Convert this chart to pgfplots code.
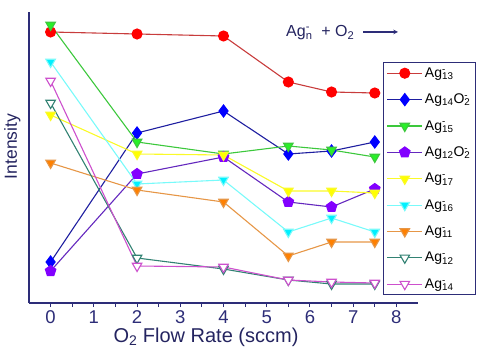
\documentclass[border=0pt]{standalone}
\usepackage{pgfplots}
\pgfplotsset{compat=1.18}
\usepackage{fontspec}
\setmainfont{Liberation Sans}
\definecolor{navy}{RGB}{45,45,120}
\definecolor{lred}{RGB}{200,60,60}
\definecolor{mred}{RGB}{255,0,0}
\definecolor{lblue}{RGB}{30,30,160}
\definecolor{mblue}{RGB}{0,0,255}
\definecolor{lgreen}{RGB}{60,200,60}
\definecolor{mgreen}{RGB}{40,240,40}
\definecolor{lpurple}{RGB}{100,40,190}
\definecolor{mpurple}{RGB}{130,0,255}
\definecolor{lyellow}{RGB}{250,250,40}
\definecolor{myellow}{RGB}{255,255,0}
\definecolor{lcyan}{RGB}{120,250,250}
\definecolor{mcyan}{RGB}{0,240,255}
\definecolor{lorange}{RGB}{230,150,70}
\definecolor{morange}{RGB}{255,128,0}
\definecolor{lteal}{RGB}{50,130,115}
\definecolor{lmag}{RGB}{205,80,205}
\newcommand{\ag}[1]{Ag\rlap{\textsuperscript{-}}\textsubscript{#1}}
\newcommand{\ago}[2]{Ag\textsubscript{#1}O\rlap{\textsuperscript{-}}\textsubscript{#2}}
\begin{document}
\begin{tikzpicture}
\begin{axis}[
  scale only axis, width=389pt, height=291pt,
  xmin=-0.5, xmax=8.5, ymin=0, ymax=291,
  axis x line*=bottom, axis y line*=left,
  axis line style={navy, line width=1.3pt},
  ytick=\empty,
  xtick={0,1,...,8}, minor x tick num=1,
  tick align=outside, major tick length=4pt, minor tick length=3.5pt,
  every tick/.style={navy, line width=1.1pt},
  ticklabel style={font=\fontsize{18.5}{18.5}\selectfont, text=navy},
  /pgf/number format/assume math mode=true,
  xlabel={O\textsubscript{2} Flow Rate (sccm)},
  ylabel={Intensity},
  label style={text=navy!80!black},
  xlabel style={font=\fontsize{20}{20}\selectfont, at={(axis description cs:0.455,0)}, anchor=center, yshift=-34pt},
  ylabel style={font=\fontsize{17.5}{17.5}\selectfont, at={(axis description cs:-0.043,0.538)}, anchor=center, rotate=0},
  legend style={at={(axis description cs:0.91,0.828)}, anchor=north west,
    draw=navy, line width=1.2pt, font=\fontsize{14}{16}\selectfont,
    row sep=11.2pt, inner sep=3pt, cells={anchor=west}},
  legend image code/.code={\draw[mark repeat=2,mark phase=2] plot coordinates {(0cm,0cm) (0.62cm,0cm) (1.24cm,0cm)};},
  legend cell align=left,
  every axis plot/.append style={line width=1.1pt},
  clip=false,
]
\addplot[lred, mark=*, mark size=5pt, mark options={fill=mred, draw=mred}] coordinates {(0,271) (2,269) (4,267) (5.5,221) (6.5,211) (7.5,210)};
\addlegendentry{\ag{13}}
\addplot[lblue, mark=diamond*, mark size=6pt, mark options={fill=mblue, draw=mblue}] coordinates {(0,41) (2,170) (4,192) (5.5,149) (6.5,152) (7.5,161)};
\addlegendentry{\ago{14}{2}}
\addplot[lgreen, mark=triangle*, mark size=5.5pt, mark options={rotate=180, fill=mgreen, draw=lgreen}] coordinates {(0,278) (2,161) (4,149) (5.5,157) (6.5,153) (7.5,146)};
\addlegendentry{\ag{15}}
\addplot[lpurple, mark=pentagon*, mark size=5.5pt, mark options={fill=mpurple, draw=mpurple}] coordinates {(0,32) (2,129) (4,146) (5.5,101) (6.5,96) (7.5,114)};
\addlegendentry{\ago{12}{2}}
\addplot[lyellow, mark=triangle*, mark size=5.5pt, mark options={rotate=180, fill=myellow, draw=lyellow}] coordinates {(0,188) (2,149) (4,148) (5.5,112) (6.5,112) (7.5,110)};
\addlegendentry{\ag{17}}
\addplot[lcyan, mark=triangle*, mark size=5.5pt, mark options={rotate=180, fill=mcyan, draw=lcyan}] coordinates {(0,241) (2,119) (4,123) (5.5,71) (6.5,85) (7.5,71)};
\addlegendentry{\ag{16}}
\addplot[lorange, mark=triangle*, mark size=5.5pt, mark options={rotate=180, fill=morange, draw=lorange}] coordinates {(0,140) (2,113) (4,101) (5.5,47) (6.5,61) (7.5,61)};
\addlegendentry{\ag{11}}
\addplot[lteal, mark=triangle*, mark size=5.5pt, mark options={rotate=180, fill=white, draw=lteal}] coordinates {(0,200) (2,45) (4,34) (5.5,23) (6.5,19) (7.5,19)};
\addlegendentry{\ag{12}}
\addplot[lmag, mark=triangle*, mark size=5.5pt, mark options={rotate=180, fill=white, draw=lmag}] coordinates {(0,222) (2,37) (4,36) (5.5,23) (6.5,21) (7.5,20)};
\addlegendentry{\ag{14}}
\end{axis}
\node[anchor=west, inner sep=0pt, font=\fontsize{16}{16}\selectfont, text=navy!80!black] at (257pt,270pt) {Ag\rlap{\textsuperscript{-}}\textsubscript{n}\ \ + O\textsubscript{2}};
\draw[navy, line width=1.1pt, -stealth] (334pt,271pt) -- (369pt,271pt);
\pgfresetboundingbox
\path[use as bounding box] (-29pt,-50pt) rectangle (452pt,303pt);
\end{tikzpicture}
\end{document}
